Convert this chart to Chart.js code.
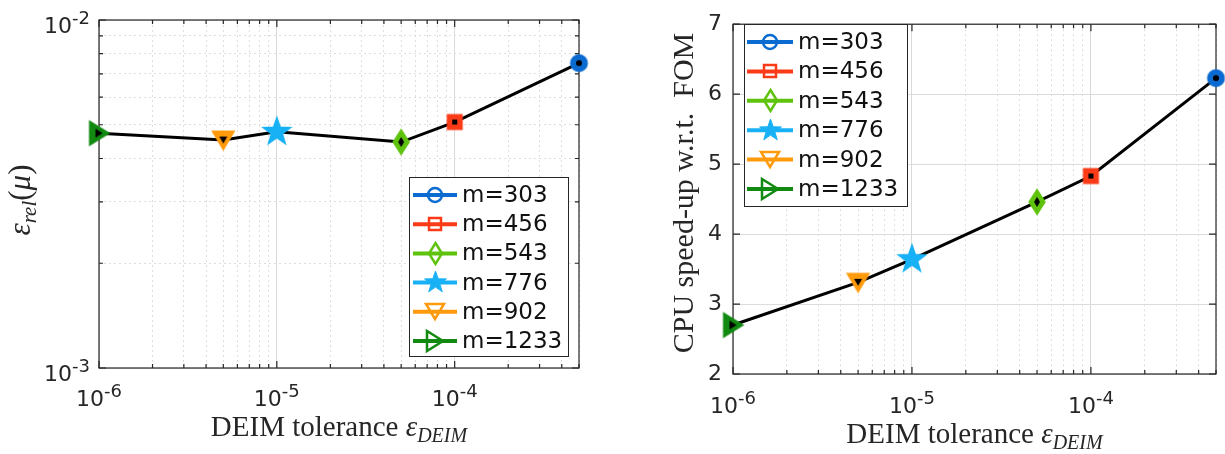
<!DOCTYPE html>
<html>
<head>
<meta charset="utf-8">
<script src="https://cdn.jsdelivr.net/npm/chart.js@4.4.1/dist/chart.umd.min.js"></script>
<style>
  body { margin: 0; background: #fff; }
  #wrap { display: flex; width: 1225px; height: 454px; }
  canvas { display: block; }
</style>
</head>
<body>
<div id="wrap">
  <canvas id="errChart" width="612" height="454"></canvas>
  <canvas id="speedChart" width="613" height="454"></canvas>
</div>
<script>
// values
const tolerances = [1e-6, 5e-6, 1e-5, 5e-5, 1e-4, 5e-4]
const mLabels = ['m=1233', 'm=902', 'm=776', 'm=543', 'm=456', 'm=303']
const relError = [4.73e-3, 4.52e-3, 4.77e-3, 4.46e-3, 5.09e-3, 7.52e-3]
const speedUp = [2.70, 3.31, 3.64, 4.46, 4.83, 6.23]
const legendOrder = ['m=303', 'm=456', 'm=543', 'm=776', 'm=902', 'm=1233']
const xTickValues = [1e-6, 1e-5, 1e-4]
const xTickExps = ['-6', '-5', '-4']
const errTickValues = [1e-3, 1e-2]
const errTickExps = ['-3', '-2']
const speedTicks = [2, 3, 4, 5, 6, 7]

const INK = '#262626'
const SERIF = '"Liberation Serif", "DejaVu Serif", serif'
const SANS = '"DejaVu Sans", sans-serif'

const styles = {
  'm=303': { color: '#0b6bd1', shape: 'circle', w: 15, h: 15, cw: 6, ch: 6 },
  'm=456': { color: '#fb3b17', shape: 'square', w: 13, h: 13, cw: 5, ch: 5 },
  'm=543': { color: '#5fc30e', shape: 'diamond', w: 14, h: 22, cw: 6, ch: 10 },
  'm=776': { color: '#18b1f5', shape: 'star', w: 24, h: 24, cw: 0, ch: 0 },
  'm=902': { color: '#ff9a0b', shape: 'down', w: 19, h: 16, cw: 8, ch: 7 },
  'm=1233': { color: '#128a12', shape: 'right', w: 17, h: 21, cw: 7, ch: 9 },
}

const markerCanvas = (shape, w, h, stroke, fill, lw) => {
  const pad = Math.ceil(lw) + 2
  const c = document.createElement('canvas')
  c.width = w + 2 * pad
  c.height = h + 2 * pad
  const g = c.getContext('2d')
  g.translate(c.width / 2, c.height / 2)
  const a = w / 2
  const b = h / 2
  g.beginPath()
  if (shape === 'circle') {
    g.ellipse(0, 0, a, b, 0, 0, 2 * Math.PI)
  } else if (shape === 'square') {
    g.rect(-a, -b, w, h)
  } else if (shape === 'diamond') {
    g.moveTo(0, -b); g.lineTo(a, 0); g.lineTo(0, b); g.lineTo(-a, 0); g.closePath()
  } else if (shape === 'down') {
    g.moveTo(-a, -b); g.lineTo(a, -b); g.lineTo(0, b); g.closePath()
  } else if (shape === 'right') {
    g.moveTo(-a, -b); g.lineTo(a, 0); g.lineTo(-a, b); g.closePath()
  } else if (shape === 'star') {
    for (let k = 0; k < 10; k++) {
      const r = k % 2 ? a * 0.4 : a
      const ang = -Math.PI / 2 + (k * Math.PI) / 5
      const px = r * Math.cos(ang)
      const py = r * Math.sin(ang)
      if (k === 0) g.moveTo(px, py)
      else g.lineTo(px, py)
    }
    g.closePath()
  }
  if (fill) {
    g.fillStyle = fill
    g.fill()
  }
  if (stroke) {
    g.strokeStyle = stroke
    g.lineWidth = lw
    g.lineJoin = 'miter'
    g.stroke()
  }
  return c
}

Object.keys(styles).forEach((k) => {
  const s = styles[k]
  s.plotImg = markerCanvas(s.shape, s.w, s.h, s.color, s.color, 3)
  s.centerImg = s.cw ? markerCanvas(s.shape, s.cw, s.ch, null, '#000', 0) : 'circle'
  if (s.shape === 'star') {
    s.legendImg = markerCanvas(s.shape, s.w - 1, s.h - 1, s.color, s.color, 1)
  } else {
    s.legendImg = markerCanvas(s.shape, s.w - 1, s.h - 1, s.color, null, 2.5)
  }
})

const isMajor = (v) => {
  const l = Math.log10(v)
  return Math.abs(l - Math.round(l)) < 1e-9
}

const logTicks = (min, max) => {
  const out = []
  for (let e = Math.floor(Math.log10(min)); e <= Math.ceil(Math.log10(max)); e++) {
    for (let m = 1; m <= 9; m++) {
      const v = Number((m * Math.pow(10, e)).toPrecision(12))
      if (v >= min * (1 - 1e-9) && v <= max * (1 + 1e-9)) out.push({ value: v })
    }
  }
  return out
}

const drawPow = (ctx, x, baseY, exp, align) => {
  ctx.font = '22px ' + SANS
  const wb = ctx.measureText('10').width
  ctx.font = '18px ' + SANS
  const we = ctx.measureText(exp).width
  const x0 = align === 'center' ? x - (wb + we) / 2 : x - (wb + we)
  ctx.textAlign = 'left'
  ctx.textBaseline = 'alphabetic'
  ctx.fillStyle = INK
  ctx.font = '22px ' + SANS
  ctx.fillText('10', x0, baseY)
  ctx.font = '18px ' + SANS
  ctx.fillText(exp, x0 + wb, baseY - 9)
}

// runs of text with sub/superscripts, centred on (cx, cy)
const drawRuns = (ctx, runs, cx, cy, rotate) => {
  ctx.save()
  ctx.translate(cx, cy)
  if (rotate) ctx.rotate(-Math.PI / 2)
  let total = 0
  runs.forEach((r) => {
    ctx.font = r.f
    r.w = ctx.measureText(r.t).width
    total += r.w
  })
  let x = -total / 2
  ctx.fillStyle = INK
  ctx.textAlign = 'left'
  ctx.textBaseline = 'alphabetic'
  runs.forEach((r) => {
    ctx.font = r.f
    ctx.fillText(r.t, x, 9 + (r.dy || 0))
    x += r.w
  })
  ctx.restore()
}

const drawLegend = (ctx, L) => {
  ctx.save()
  ctx.fillStyle = '#fff'
  ctx.fillRect(L.x, L.y, L.w, L.h)
  ctx.strokeStyle = INK
  ctx.lineWidth = 1
  ctx.strokeRect(L.x + 0.5, L.y + 0.5, L.w, L.h)
  legendOrder.forEach((label, i) => {
    const s = styles[label]
    const y = L.row0 + i * L.step
    ctx.strokeStyle = s.color
    ctx.lineWidth = 4
    ctx.beginPath()
    ctx.moveTo(L.x1, y)
    ctx.lineTo(L.x2, y)
    ctx.stroke()
    ctx.drawImage(s.legendImg, Math.round(L.mx - s.legendImg.width / 2), Math.round(y - s.legendImg.height / 2))
    ctx.fillStyle = '#111'
    ctx.font = '23px ' + SANS
    ctx.textAlign = 'left'
    ctx.textBaseline = 'middle'
    ctx.fillText(label, L.tx, y + 1)
  })
  ctx.restore()
}

const xTitleRuns = () => [
  { t: 'DEIM tolerance ', f: '29px ' + SERIF },
  { t: 'ε', f: 'italic 29px ' + SERIF },
  { t: 'DEIM', f: 'italic 20px ' + SERIF, dy: 6 },
]

const framePlugin = (cfg) => ({
  id: 'frame',
  beforeDatasetsDraw(chart) {
    const ctx = chart.ctx
    const a = chart.chartArea
    ctx.save()
    ctx.strokeStyle = INK
    ctx.lineWidth = 1.2
    ctx.strokeRect(a.left, a.top, a.right - a.left, a.bottom - a.top)
    chart.scales.x.ticks.forEach((t) => {
      const px = chart.scales.x.getPixelForValue(t.value)
      const len = isMajor(t.value) ? 7 : 4
      ctx.beginPath()
      ctx.moveTo(px, a.bottom); ctx.lineTo(px, a.bottom - len)
      ctx.moveTo(px, a.top); ctx.lineTo(px, a.top + len)
      ctx.stroke()
    })
    chart.scales.y.ticks.forEach((t) => {
      const py = chart.scales.y.getPixelForValue(t.value)
      const len = cfg.yLog && !isMajor(t.value) ? 4 : 7
      ctx.beginPath()
      ctx.moveTo(a.left, py); ctx.lineTo(a.left + len, py)
      ctx.moveTo(a.right, py); ctx.lineTo(a.right - len, py)
      ctx.stroke()
    })
    ctx.restore()
  },
  afterDraw(chart) {
    const ctx = chart.ctx
    const a = chart.chartArea
    xTickValues.forEach((v, i) => {
      drawPow(ctx, chart.scales.x.getPixelForValue(v), a.bottom + cfg.xLabelGap, xTickExps[i], 'center')
    })
    if (cfg.yLog) {
      errTickValues.forEach((v, i) => {
        drawPow(ctx, a.left - 9, chart.scales.y.getPixelForValue(v) + 12.5, errTickExps[i], 'right')
      })
    }
    drawRuns(ctx, xTitleRuns(), (a.left + a.right) / 2, a.bottom + cfg.xTitleGap, false)
    drawRuns(ctx, cfg.yTitle, cfg.yTitleX, cfg.yTitleY, true)
    drawLegend(ctx, cfg.legend)
  },
})

const logX = (height) => ({
  type: 'logarithmic',
  min: 1e-6,
  max: 5e-4,
  afterBuildTicks: (s) => { s.ticks = logTicks(1e-6, 5e-4) },
  afterFit: (s) => { s.height = height },
  ticks: { display: false },
  grid: {
    drawTicks: false,
    color: (c) => (isMajor(c.tick.value) ? '#d9d9d9' : '#dedede'),
    lineWidth: 1,
  },
  border: { display: false, dash: (c) => (isMajor(c.tick.value) ? [] : [2, 3]) },
})

const buildDatasets = (vals) => {
  const pts = tolerances.map((t, i) => ({ x: t, y: vals[i] }))
  const markers = mLabels.map((lab, i) => ({
    label: lab,
    data: [{ x: tolerances[i], y: vals[i] }],
    showLine: false,
    pointStyle: styles[lab].plotImg,
    pointRadius: 8,
    order: 2,
    clip: false,
  }))
  return [
    { label: 'path', data: pts, borderColor: '#000', borderWidth: 3, pointRadius: 0, tension: 0, order: 3, clip: false },
    ...markers,
    {
      label: 'centres',
      data: pts,
      showLine: false,
      pointStyle: mLabels.map((l) => styles[l].centerImg),
      pointRadius: mLabels.map((l) => (styles[l].cw ? 4 : 0)),
      order: 1,
      clip: false,
    },
  ]
}

// left: relative error
new Chart(document.getElementById('errChart'), {
  type: 'line',
  data: { datasets: buildDatasets(relError) },
  options: {
    responsive: false,
    animation: false,
    events: [],
    layout: { padding: { top: 20, right: 33, left: 0, bottom: 0 } },
    plugins: { legend: { display: false }, tooltip: { enabled: false } },
    scales: {
      x: logX(86),
      y: {
        type: 'logarithmic',
        min: 1e-3,
        max: 1e-2,
        afterBuildTicks: (s) => { s.ticks = logTicks(1e-3, 1e-2) },
        afterFit: (s) => { s.width = 99 },
        ticks: { display: false },
        grid: { drawTicks: false, color: '#dedede' },
        border: { display: false, dash: (c) => (isMajor(c.tick.value) ? [] : [2, 3]) },
      },
    },
  },
  plugins: [framePlugin({
    yLog: true,
    xLabelGap: 38,
    xTitleGap: 59,
    yTitle: [
      { t: 'ε', f: 'italic 31px ' + SERIF },
      { t: 'rel', f: 'italic 21px ' + SERIF, dy: 6 },
      { t: '(', f: '31px ' + SERIF },
      { t: 'μ', f: 'italic 31px ' + SERIF },
      { t: ')', f: '31px ' + SERIF },
    ],
    yTitleX: 21,
    yTitleY: 200,
    legend: { x: 409, y: 177, w: 159, h: 179, row0: 195, step: 29.2, x1: 413, x2: 457, mx: 435, tx: 462 },
  })],
})

// right: CPU speed-up
new Chart(document.getElementById('speedChart'), {
  type: 'line',
  data: { datasets: buildDatasets(speedUp) },
  options: {
    responsive: false,
    animation: false,
    events: [],
    layout: { padding: { top: 12, right: 2, left: 0, bottom: 0 } },
    plugins: { legend: { display: false }, tooltip: { enabled: false } },
    scales: {
      x: logX(80),
      y: {
        type: 'linear',
        min: speedTicks[0],
        max: speedTicks[speedTicks.length - 1],
        afterBuildTicks: (s) => { s.ticks = speedTicks.map((v) => ({ value: v })) },
        afterFit: (s) => { s.width = 121 },
        ticks: { color: INK, padding: 11, font: { family: 'DejaVu Sans', size: 22 } },
        grid: { drawTicks: false, color: '#dcdcdc' },
        border: { display: false },
      },
    },
  },
  plugins: [framePlugin({
    yLog: false,
    xLabelGap: 39,
    xTitleGap: 60,
    yTitle: [{ t: 'CPU speed-up w.r.t.  FOM', f: '30px ' + SERIF }],
    yTitleX: 72,
    yTitleY: 193,
    legend: { x: 132, y: 24, w: 163, h: 182, row0: 42, step: 29.4, x1: 135, x2: 181, mx: 158, tx: 186 },
  })],
})
</script>
</body>
</html>
